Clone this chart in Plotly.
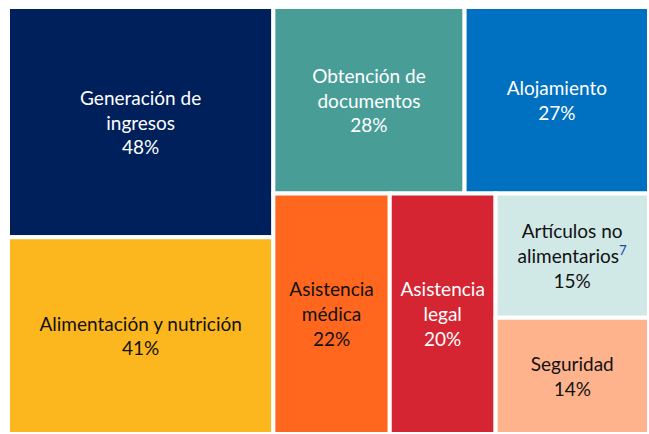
import plotly.graph_objects as go

# Leaf categories (percent of respondents)
categories = ["Generación de<br>ingresos", "Alimentación y nutrición", "Obtención de<br>documentos",
              "Alojamiento", "Asistencia<br>médica", "Asistencia<br>legal",
              "Artículos no<br>alimentarios<sup><span style='color:#2446A6'>7</span></sup>", "Seguridad"]
percentages = [48, 41, 28, 27, 22, 20, 15, 14]
leaf_colors = ["#00205B", "#FDB71E", "#489E97", "#0070C0", "#FF671F", "#D52532", "#D0E8E6", "#FFB38D"]
leaf_text_colors = ["#FFFFFF", "#111111", "#FFFFFF", "#FFFFFF", "#111111", "#FFFFFF", "#111111", "#111111"]
# layout block for each leaf
leaf_groups = ["L", "L", "RT", "RT", "RB", "RB", "RBG", "RBG"]

# invisible layout blocks (order in list = order of drawing)
group_ids = ["ALL", "L", "R", "RT", "RB", "RBG"]
group_parents = ["", "ALL", "ALL", "R", "R", "RB"]

leaf_ids = ["c%d" % i for i in range(len(categories))]

nodes = []  # (id, label, parent, value, color, text color, template, line width)
for gid, gpar in zip(group_ids[:5], group_parents[:5]):
    nodes.append((gid, "", gpar, 0, "#FFFFFF", "#FFFFFF", "", 0))
for i in range(6):
    nodes.append((leaf_ids[i], categories[i], leaf_groups[i], percentages[i], leaf_colors[i],
                  leaf_text_colors[i], "%{label}<br>%{value}%", 4))
nodes.append((group_ids[5], "", group_parents[5], 0, "#FFFFFF", "#FFFFFF", "", 0))
for i in range(6, 8):
    nodes.append((leaf_ids[i], categories[i], leaf_groups[i], percentages[i], leaf_colors[i],
                  leaf_text_colors[i], "%{label}<br>%{value}%", 4))

ids, labels, parents, values, colors, text_colors, templates, widths = map(list, zip(*nodes))

fig = go.Figure(go.Treemap(
    ids=ids,
    labels=labels,
    parents=parents,
    values=values,
    branchvalues="remainder",
    sort=False,
    texttemplate=templates,
    textposition="middle center",
    textfont=dict(family="Lato", size=19, color=text_colors),
    marker=dict(colors=colors, line=dict(color="white", width=widths),
                pad=dict(t=0, l=0, r=0, b=0)),
    tiling=dict(packing="slice-dice", pad=0),
    hoverinfo="skip",
    pathbar=dict(visible=False),
))
fig.update_layout(
    width=649, height=434,
    margin=dict(l=8, r=0, t=7, b=0),
    paper_bgcolor="white",
)
fig.write_html("out.html",
               config={"displayModeBar": False},
               post_script="document.body.style.margin='0';document.body.style.overflow='hidden';")
